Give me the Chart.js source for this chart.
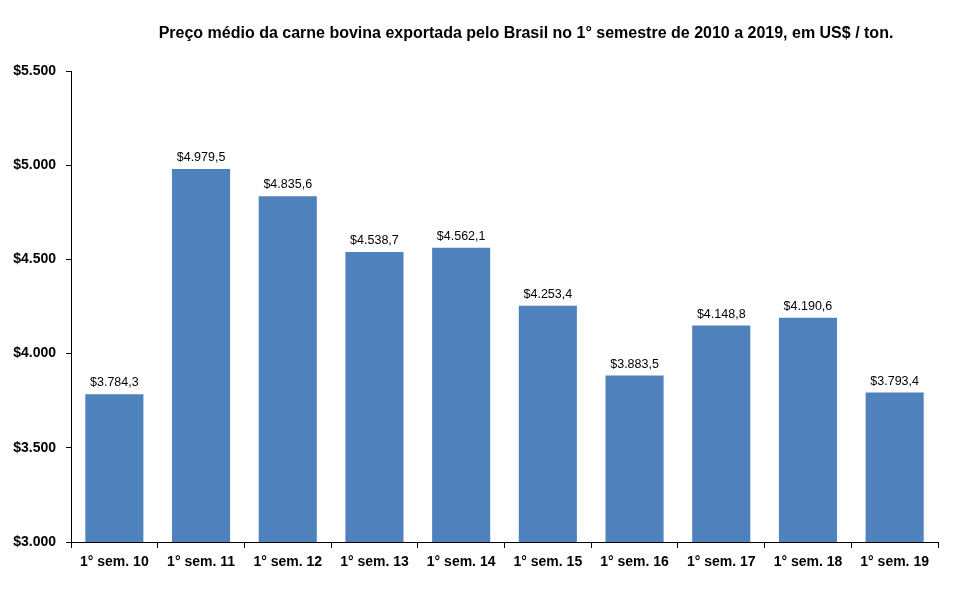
<!DOCTYPE html>
<html>
<head>
<meta charset="utf-8">
<script src="https://cdn.jsdelivr.net/npm/chart.js@4"></script>
<style>
  html, body { margin: 0; padding: 0; background: #fff; }
  #wrap { position: relative; width: 960px; height: 593px; }
</style>
</head>
<body>
<div id="wrap"><canvas id="precoChart"></canvas></div>
<script>
const titleText = 'Preço médio da carne bovina exportada pelo Brasil no 1° semestre de 2010 a 2019, em US$ / ton.';
const categories = ['1° sem. 10', '1° sem. 11', '1° sem. 12', '1° sem. 13', '1° sem. 14',
                    '1° sem. 15', '1° sem. 16', '1° sem. 17', '1° sem. 18', '1° sem. 19'];
const prices = [3784.3, 4979.5, 4835.6, 4538.7, 4562.1, 4253.4, 3883.5, 4148.8, 4190.6, 3793.4];
const yMin = 3000;
const yMax = 5500;
const yStep = 500;

// formato brasileiro: ponto no milhar, virgula no decimal
function fmtNum(v, dec) {
    const parts = v.toFixed(dec).split('.');
    parts[0] = parts[0].replace(/\B(?=(\d{3})+(?!\d))/g, '.');
    return parts.join(',');
}

const barLabels = {
    id: 'barLabels',
    afterDatasetsDraw(chart) {
        const ctx = chart.ctx;
        const meta = chart.getDatasetMeta(0);
        ctx.save();
        ctx.font = '12.5px "Liberation Sans", Arial, sans-serif';
        ctx.fillStyle = '#000';
        ctx.textAlign = 'center';
        ctx.textBaseline = 'bottom';
        meta.data.forEach((bar, i) => {
            ctx.fillText('$' + fmtNum(prices[i], 1), bar.x, bar.y - 5);
        });
        ctx.restore();
    }
};

const topTitle = {
    id: 'topTitle',
    afterDraw(chart) {
        const ctx = chart.ctx;
        ctx.save();
        ctx.font = 'bold 16px "Liberation Sans", Arial, sans-serif';
        ctx.fillStyle = '#000';
        ctx.textAlign = 'center';
        ctx.textBaseline = 'middle';
        ctx.fillText(titleText, 526, 34);
        ctx.restore();
    }
};

const ctx = document.getElementById('precoChart').getContext('2d');
new Chart(ctx, {
    type: 'bar',
    data: {
        labels: categories,
        datasets: [{
            data: prices,
            backgroundColor: '#4F81BD',
            borderWidth: 0,
            categoryPercentage: 1,
            barPercentage: 0.67
        }]
    },
    options: {
        responsive: true,
        maintainAspectRatio: false,
        animation: false,
        layout: { padding: { top: 71, right: 22, left: 0, bottom: 10 } },
        plugins: {
            legend: { display: false },
            tooltip: { enabled: false }
        },
        scales: {
            x: {
                grid: { display: true, offset: true, drawOnChartArea: false, tickLength: 6, color: '#000' },
                border: { color: '#000', width: 1 },
                ticks: {
                    color: '#000',
                    padding: 6,
                    font: { family: '"Liberation Sans", Arial, sans-serif', size: 14, weight: 'bold' },
                    maxRotation: 0
                },
                afterFit(scale) { scale.height = 41; }
            },
            y: {
                min: yMin,
                max: yMax,
                grid: { display: true, drawOnChartArea: false, tickLength: 5, color: '#000' },
                border: { color: '#000', width: 1 },
                ticks: {
                    stepSize: yStep,
                    color: '#000',
                    padding: 10,
                    font: { family: '"Liberation Sans", Arial, sans-serif', size: 14, weight: 'bold' },
                    callback: v => '$' + fmtNum(v, 0)
                },
                afterFit(scale) { scale.width = 71; }
            }
        }
    },
    plugins: [barLabels, topTitle]
});
</script>
</body>
</html>
